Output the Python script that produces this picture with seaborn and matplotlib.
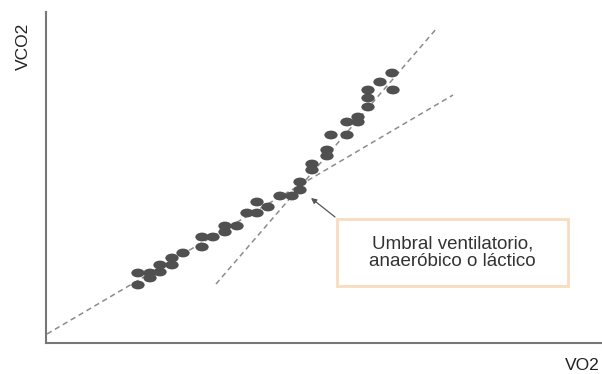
import numpy as np
import pandas as pd
import matplotlib
matplotlib.use('Agg')
import matplotlib.pyplot as plt
import matplotlib.path as mpath
from matplotlib.patches import Rectangle
import seaborn as sns

# data (arbitrary units)
vo2 = [92, 92, 104, 104, 114, 114, 126, 126, 137, 156, 156, 167, 179, 179,
       191, 201, 211, 211, 222, 234, 246, 254, 254, 266, 266, 281, 281, 285,
       301, 301, 312, 312, 322, 322, 322, 334, 347, 346]
vco2 = [58, 70, 65, 70, 71, 78, 78, 85, 90, 96, 106, 106, 111, 117,
        117, 130, 130, 141, 136, 147, 147, 153, 161, 173, 179, 187, 193, 208,
        208, 221, 221, 226, 236, 245, 253, 261, 253, 270]

# dashed trend lines (two end points each)
aer_x = [1, 407]
aer_y = [9, 248]
ana_x = [170, 391]
ana_y = [59, 315]

# threshold annotation
arrow_tail = (289, 126)
arrow_head = (265, 145)
label_text = 'Umbral ventilatorio,\nanaeróbico o láctico'

sns.set_theme(style='white')
plt.rcParams['font.family'] = ['Liberation Sans', 'DejaVu Sans']

fig = plt.figure(figsize=(6.02, 3.74), dpi=100)
ax = fig.add_axes([46 / 602, 31 / 374, 556 / 602, 331 / 374])

# ellipse marker
ellipse = mpath.Path.unit_circle()
ellipse = mpath.Path(ellipse.vertices * np.array([1.0, 0.66]), ellipse.codes)

df = pd.DataFrame({'VO2': vo2, 'VCO2': vco2})
sns.scatterplot(data=df, x='VO2', y='VCO2', marker=ellipse, s=92,
                color='#505050', edgecolor='none', linewidth=0, ax=ax, zorder=3)

for lx, ly in [(aer_x, aer_y), (ana_x, ana_y)]:
    sns.lineplot(x=lx, y=ly, color='#8c8c8c', linewidth=1.1, ax=ax,
                 dashes=False, linestyle=(0, (3.5, 2.5)), zorder=2)

ax.annotate('', xy=arrow_head, xytext=arrow_tail,
            arrowprops=dict(arrowstyle='-|>', color='#555555', lw=0.9,
                            mutation_scale=8, shrinkA=0, shrinkB=0))

ax.add_patch(Rectangle((291, 57), 231, 67, facecolor='white',
                       edgecolor='#f8dcc0', linewidth=2, zorder=4))
ax.text(406.5, 90.5, label_text, ha='center', va='center', fontsize=13.5,
        color='#333333', linespacing=1.05, zorder=5)

ax.set_xlim(0, 556)
ax.set_ylim(0, 331)
ax.set_xticks([])
ax.set_yticks([])
ax.set_xlabel('')
ax.set_ylabel('')
for side in ['top', 'right']:
    ax.spines[side].set_visible(False)
for side in ['left', 'bottom']:
    ax.spines[side].set_color('#777777')
    ax.spines[side].set_linewidth(1.5)

fig.text(23 / 602, 1 - 46 / 374, 'VCO2', rotation=90, ha='center',
         va='center', fontsize=12.5, color='#222222')
fig.text(582 / 602, 1 - 366 / 374, 'VO2', ha='center', va='center',
         fontsize=12.5, color='#222222')

fig.savefig('out.png', dpi=100)
